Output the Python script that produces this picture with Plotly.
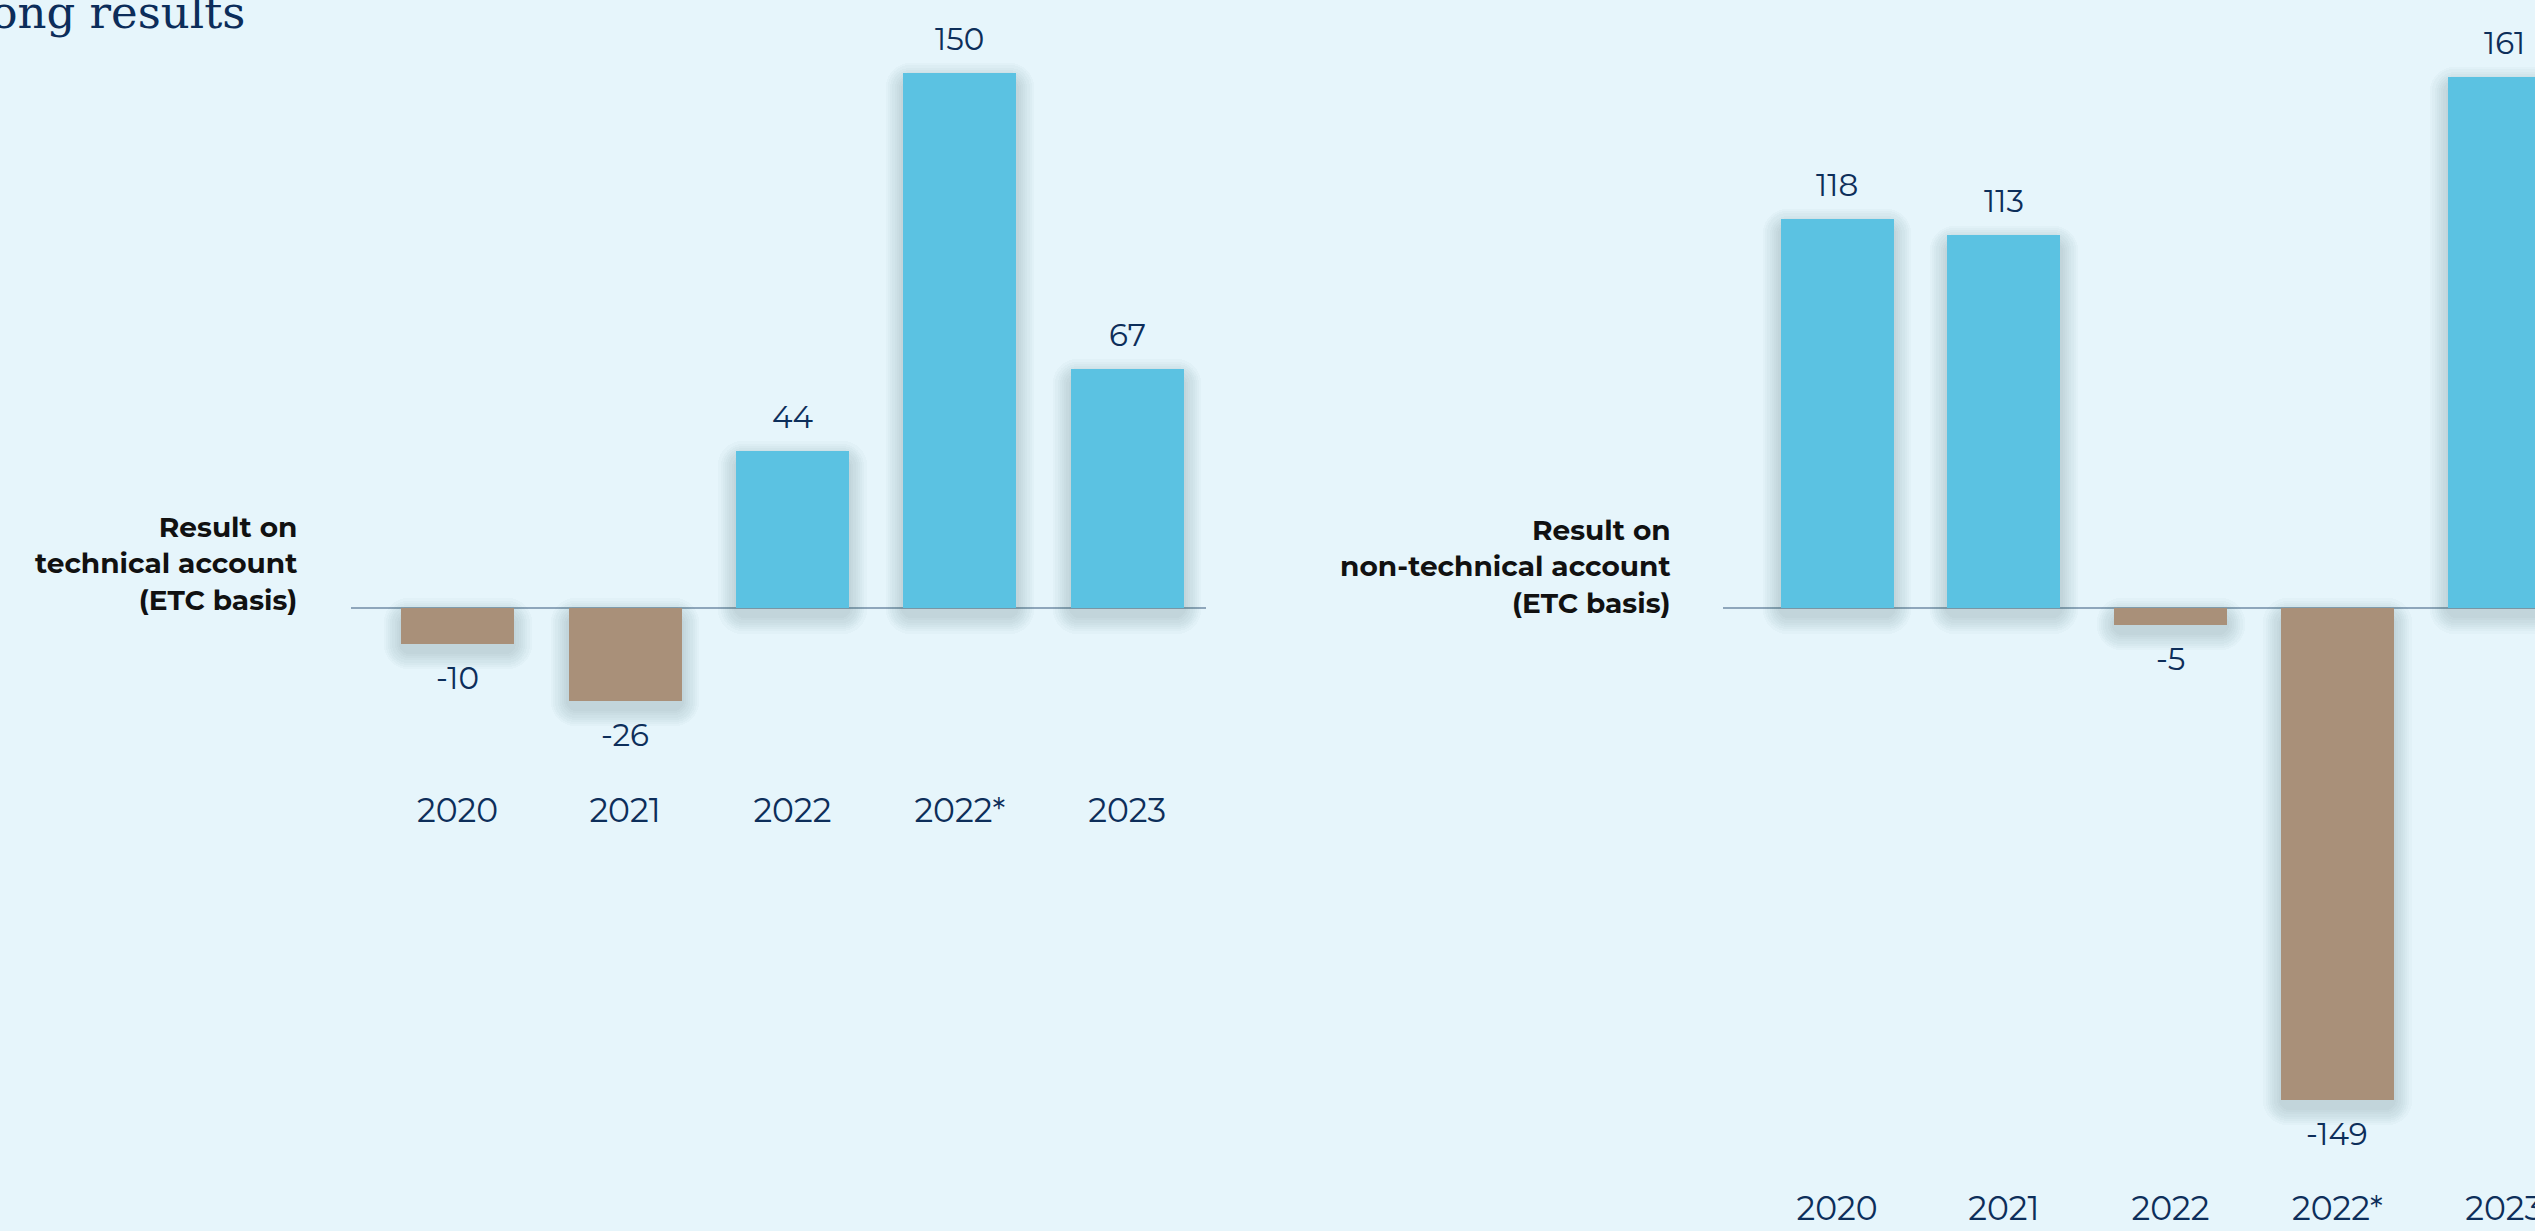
import plotly.graph_objects as go

# Data
years = ["2020", "2021", "2022", "2022*", "2023"]
technical = [-10, -26, 44, 150, 67]
non_technical = [118, 113, -5, -149, 161]
row_labels = ["Result on<br>technical account<br>(ETC basis)",
              "Result on<br>non-technical account<br>(ETC basis)"]
title_text = "Strong results"

W, H = 2535, 1231
BG = "#e6f5fb"
BLUE = "#5bc2e2"
BROWN = "#a99079"
NAVY = "#0d2e5a"
LINE = "#8ea6bb"
SANS = "Montserrat, 'Open Sans', sans-serif"

# Panel geometry in pixels
panels = [
    dict(vals=technical, x0=351, x1=1206, bottom=788, centre0=457.6, step=167.4,
         pxu=3.568, label_x=299, label_y=563),
    dict(vals=non_technical, x0=1723, x1=2535, bottom=1186, centre0=1837, step=166.8,
         pxu=3.3, label_x=1673, label_y=567),
]
BASE_PX = 608
BAR_PX = 113

fig = go.Figure()

for i, p in enumerate(panels):
    xa = "x" if i == 0 else "x2"
    ya = "y" if i == 0 else "y2"
    vals = p["vals"]
    pxu = p["pxu"]
    width_u = BAR_PX / p["step"]
    colors = [BLUE if v >= 0 else BROWN for v in vals]

    # soft drop shadow built from stacked translucent bars
    off = 8 / pxu
    for k in range(1, 9):
        s = (k * 2.2) / pxu
        fig.add_trace(go.Bar(
            x=years, y=[abs(v) + 2 * s for v in vals],
            base=[min(0, v) - s - off for v in vals],
            width=width_u + 2 * k * 2.2 / p["step"],
            marker=dict(color="rgba(50,80,100,0.022)", line_width=0, cornerradius=8 + k * 2),
            xaxis=xa, yaxis=ya, hoverinfo="skip", showlegend=False,
        ))

    fig.add_trace(go.Bar(
        x=years, y=vals, width=width_u,
        marker=dict(color=colors, line_width=0, cornerradius=8),
        xaxis=xa, yaxis=ya, showlegend=False,
    ))

    # value labels (category index keeps year-like strings from being read as numbers)
    for j, v in enumerate(vals):
        fig.add_annotation(
            x=j, y=v, xref=xa, yref=ya, text=str(v), showarrow=False,
            yshift=34 if v >= 0 else -34, yanchor="middle",
            font=dict(family=SANS, size=31, color=NAVY),
        )

    # row label
    fig.add_annotation(
        x=p["label_x"] / W, y=1 - p["label_y"] / H, xref="paper", yref="paper",
        text="<b>" + row_labels[i] + "</b>", showarrow=False, align="right",
        xanchor="right", yanchor="middle",
        font=dict(family=SANS, size=28, color="#111111"),
    )

    xr = [(p["x0"] - p["centre0"]) / p["step"], (p["x1"] - p["centre0"]) / p["step"]]
    ytop = BASE_PX / pxu
    ybot = -(p["bottom"] - BASE_PX) / pxu
    xaxis = dict(domain=[p["x0"] / W, p["x1"] / W], range=xr, type="category",
                 showgrid=False, zeroline=False, showline=False, ticks="",
                 automargin=False,
                 tickfont=dict(family=SANS, size=33, color=NAVY), anchor=ya)
    yaxis = dict(domain=[1 - p["bottom"] / H, 1], range=[ybot, ytop],
                 showgrid=False, zeroline=True, zerolinecolor=LINE, zerolinewidth=2,
                 automargin=False,
                 showticklabels=False, showline=False, ticks="", anchor=xa)
    if i == 0:
        fig.update_layout(xaxis=xaxis, yaxis=yaxis)
    else:
        fig.update_layout(xaxis2=xaxis, yaxis2=yaxis)

# page heading, running off the left edge
fig.add_annotation(
    x=247 / W, y=1 - 13 / H, xref="paper", yref="paper", text=title_text,
    showarrow=False, xanchor="right", yanchor="middle",
    font=dict(family="DejaVu Serif", size=45, color="#0c2d5a"),
)

fig.update_layout(
    width=W, height=H, margin=dict(l=0, r=0, t=0, b=0, autoexpand=False),
    paper_bgcolor=BG, plot_bgcolor="rgba(0,0,0,0)",
    barmode="overlay", bargap=0,
)

fig.write_html("out.html", config={"displayModeBar": False})
